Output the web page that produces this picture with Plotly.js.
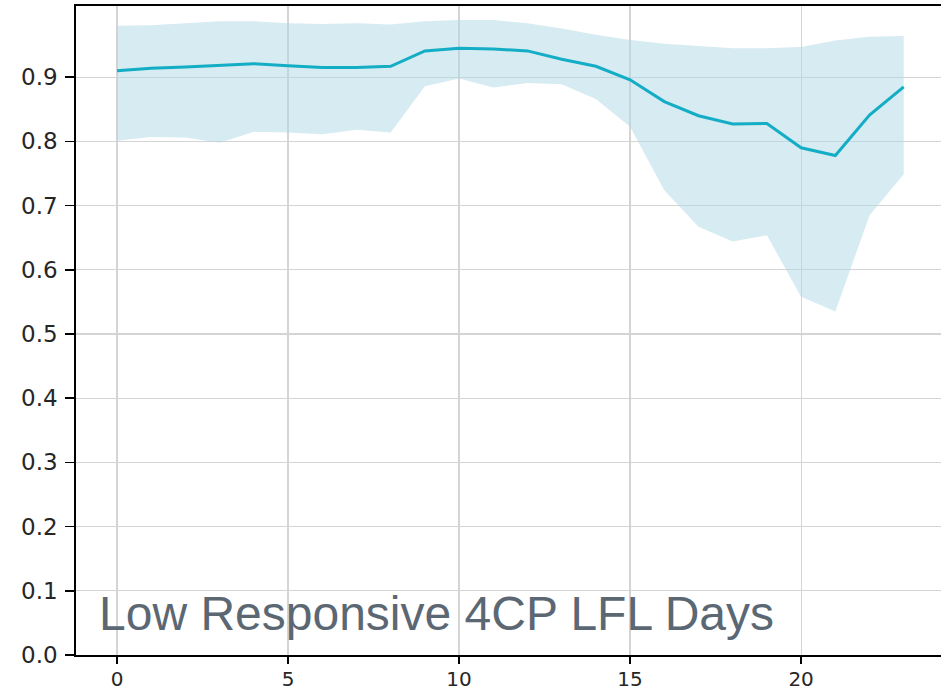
<!DOCTYPE html>
<html>
<head>
<meta charset="utf-8">
<script src="https://cdn.plot.ly/plotly-3.0.1.min.js"></script>
<style>
  html, body { margin: 0; padding: 0; background: #ffffff; }
  #chart { width: 941px; height: 692px; }
</style>
</head>
<body>
<div id="chart"></div>
<script>
// Hours of day
const hours = [0,1,2,3,4,5,6,7,8,9,10,11,12,13,14,15,16,17,18,19,20,21,22,23];
// Mean line values
const meanValues = [0.910,0.914,0.916,0.919,0.921,0.918,0.915,0.915,0.917,0.941,0.945,0.944,0.941,0.928,0.917,0.896,0.862,0.840,0.827,0.828,0.790,0.778,0.841,0.885];
// Upper band
const upperValues = [0.980,0.981,0.984,0.987,0.987,0.984,0.983,0.984,0.982,0.987,0.989,0.989,0.984,0.976,0.966,0.958,0.952,0.949,0.945,0.945,0.947,0.957,0.963,0.964];
// Lower band
const lowerValues = [0.801,0.807,0.806,0.798,0.815,0.814,0.811,0.818,0.814,0.886,0.898,0.884,0.891,0.889,0.866,0.823,0.724,0.667,0.644,0.654,0.558,0.535,0.685,0.749];
// Tick values
const xTicks = [0,5,10,15,20];
const yTicks = [0.0,0.1,0.2,0.3,0.4,0.5,0.6,0.7,0.8,0.9];
const yTickText = ["0.0","0.1","0.2","0.3","0.4","0.5","0.6","0.7","0.8","0.9"];
const label = "Low Responsive 4CP LFL Days";

const traces = [
  {
    x: hours, y: lowerValues, type: 'scatter', mode: 'lines',
    line: {width: 0, color: 'rgba(173,216,230,0)'},
    hoverinfo: 'skip', showlegend: false
  },
  {
    x: hours, y: upperValues, type: 'scatter', mode: 'lines',
    fill: 'tonexty', fillcolor: 'rgba(173,216,230,0.5)',
    line: {width: 0, color: 'rgba(173,216,230,0)'},
    hoverinfo: 'skip', showlegend: false
  },
  {
    x: hours, y: meanValues, type: 'scatter', mode: 'lines',
    line: {width: 3, color: '#14adc6'},
    showlegend: false
  }
];

const layout = {
  width: 941, height: 692,
  margin: {l: 76, r: 0, t: 6, b: 37, pad: 0},
  paper_bgcolor: '#ffffff', plot_bgcolor: '#ffffff',
  showlegend: false,
  font: {family: 'DejaVu Sans, sans-serif', size: 23, color: '#262626'},
  xaxis: {
    range: [-1.2, 24.09],
    tickvals: xTicks,
    ticktext: xTicks.map(String),
    ticks: 'outside', ticklen: 7, tickwidth: 1.5, tickcolor: '#000000',
    ticklabelstandoff: -2,
    showline: true, linecolor: '#000000', linewidth: 1.8, mirror: true,
    showgrid: true, gridcolor: '#d4d4d4', gridwidth: 1.2,
    zeroline: false,
    tickfont: {family: 'DejaVu Sans, sans-serif', size: 20, color: '#262626'}
  },
  yaxis: {
    range: [0, 1.0109],
    tickvals: yTicks,
    ticktext: yTickText,
    ticks: 'outside', ticklen: 9, tickwidth: 1.5, tickcolor: '#000000',
    ticklabelstandoff: 3,
    showline: true, linecolor: '#000000', linewidth: 1.8, mirror: false,
    showgrid: true, gridcolor: '#d4d4d4', gridwidth: 1.2,
    zeroline: false,
    tickfont: {family: 'DejaVu Sans, sans-serif', size: 23, color: '#262626'}
  },
  annotations: [{
    text: label,
    xref: 'x', yref: 'y',
    x: -0.6, y: 0.065,
    xanchor: 'left', yanchor: 'middle',
    showarrow: false,
    font: {family: 'Liberation Sans, Arial, sans-serif', size: 48, color: '#5b6873'}
  }]
};

Plotly.newPlot('chart', traces, layout, {displayModeBar: false, staticPlot: true});
</script>
</body>
</html>
